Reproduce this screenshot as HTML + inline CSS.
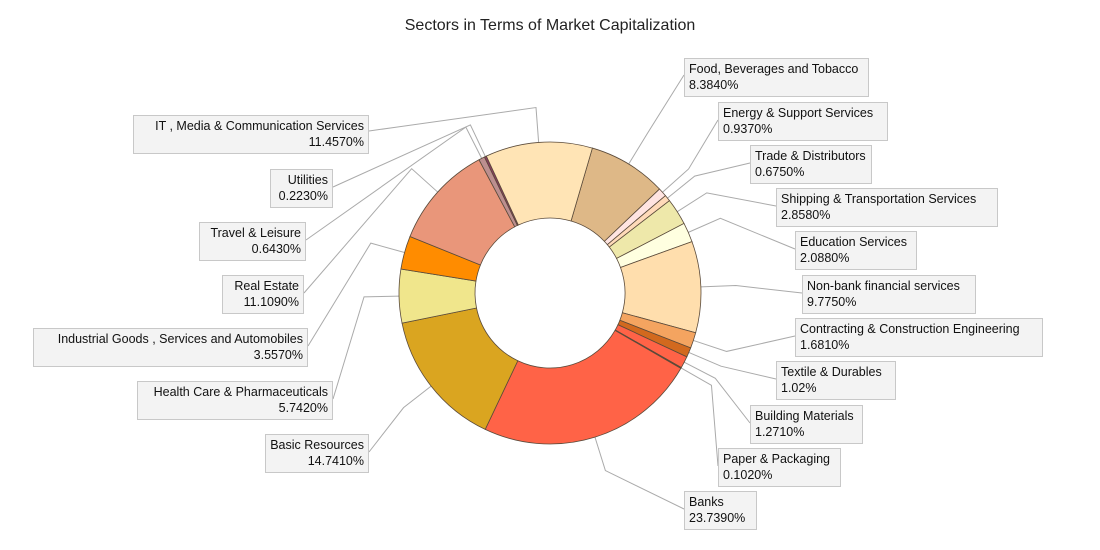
<!DOCTYPE html>
<html><head><meta charset="utf-8"><style>
body{margin:0;background:#fff;width:1100px;height:550px;overflow:hidden;position:relative;font-family:"Liberation Sans",Tahoma,sans-serif;}
.t{position:absolute;left:0;width:1100px;top:17px;text-align:center;font-size:16px;color:#222;}
.b{position:absolute;background:#f3f3f3;border:1px solid #c8c8c8;font-size:12.5px;line-height:16px;color:#111;padding:2px 4px;box-sizing:border-box;height:39px;white-space:nowrap;}
.l{text-align:right}
svg{position:absolute;left:0;top:0}
</style></head><body>
<svg id="s" width="1100" height="550"></svg>
<div class="t">Sectors in Terms of Market Capitalization</div>
<div class="b l" style="left:133px;top:115px;width:236px">IT , Media &amp; Communication Services<br>11.4570%</div>
<div class="b l" style="left:270px;top:169px;width:63px">Utilities<br>0.2230%</div>
<div class="b l" style="left:199px;top:222px;width:107px">Travel &amp; Leisure<br>0.6430%</div>
<div class="b l" style="left:222px;top:275px;width:82px">Real Estate<br>11.1090%</div>
<div class="b l" style="left:33px;top:328px;width:275px">Industrial Goods , Services and Automobiles<br>3.5570%</div>
<div class="b l" style="left:137px;top:381px;width:196px">Health Care &amp; Pharmaceuticals<br>5.7420%</div>
<div class="b l" style="left:265px;top:434px;width:104px">Basic Resources<br>14.7410%</div>
<div class="b" style="left:684px;top:58px;width:185px">Food, Beverages and Tobacco<br>8.3840%</div>
<div class="b" style="left:718px;top:102px;width:170px">Energy &amp; Support Services<br>0.9370%</div>
<div class="b" style="left:750px;top:145px;width:122px">Trade &amp; Distributors<br>0.6750%</div>
<div class="b" style="left:776px;top:188px;width:222px">Shipping &amp; Transportation Services<br>2.8580%</div>
<div class="b" style="left:795px;top:231px;width:122px">Education Services<br>2.0880%</div>
<div class="b" style="left:802px;top:275px;width:174px">Non-bank financial services<br>9.7750%</div>
<div class="b" style="left:795px;top:318px;width:248px">Contracting &amp; Construction Engineering<br>1.6810%</div>
<div class="b" style="left:776px;top:361px;width:120px">Textile &amp; Durables<br>1.02%</div>
<div class="b" style="left:750px;top:405px;width:113px">Building Materials<br>1.2710%</div>
<div class="b" style="left:718px;top:448px;width:123px">Paper &amp; Packaging<br>0.1020%</div>
<div class="b" style="left:684px;top:491px;width:73px">Banks<br>23.7390%</div>
<script>
var d=[[8.384,"#DEB887",684,75],[0.937,"#FFE4E1",718,120],[0.675,"#FFDAB9",750,163],[2.858,"#EEE8AA",776,206],[2.088,"#FFFFE0",795,249],[9.775,"#FFDEAD",802,293],[1.681,"#F4A460",795,336],[1.02,"#D2691E",776,379],[1.271,"#FF6347",750,423],[0.102,"#8B4513",718,466],[23.739,"#FF6347",684,509],[14.741,"#DAA520",369,452],[5.742,"#F0E68C",333,399],[3.557,"#FF8C00",308,346],[11.109,"#E9967A",304,293],[0.643,"#BC8F8F",306,240],[0.223,"#8B3A62",333,187],[11.457,"#FFE4B5",369,131]];
var cx=550,cy=293,R=151,r=75,a=16.3,h='',L='';
function p(rad,ang){var t=ang*Math.PI/180;return [cx+rad*Math.sin(t),cy-rad*Math.cos(t)];}
d.forEach(function(s){var sw=s[0]*3.6,b=a+sw,lg=sw>180?1:0;
var A=p(R,a),B=p(R,b),C=p(r,b),D=p(r,a);
h+='<path d="M'+A+' A'+R+','+R+' 0 '+lg+' 1 '+B+' L'+C+' A'+r+','+r+' 0 '+lg+' 0 '+D+' Z" fill="'+s[1]+'" stroke="#5a4a3a" stroke-width="0.8"/>';
var m=a+sw/2,P=p(R,m),Q=p(R+35,m);
L+='<polyline points="'+P+' '+Q+' '+s[2]+','+s[3]+'" fill="none" stroke="#aaa" stroke-width="1"/>';
a=b;});
document.getElementById('s').innerHTML=L+h;
</script>
</body></html>
